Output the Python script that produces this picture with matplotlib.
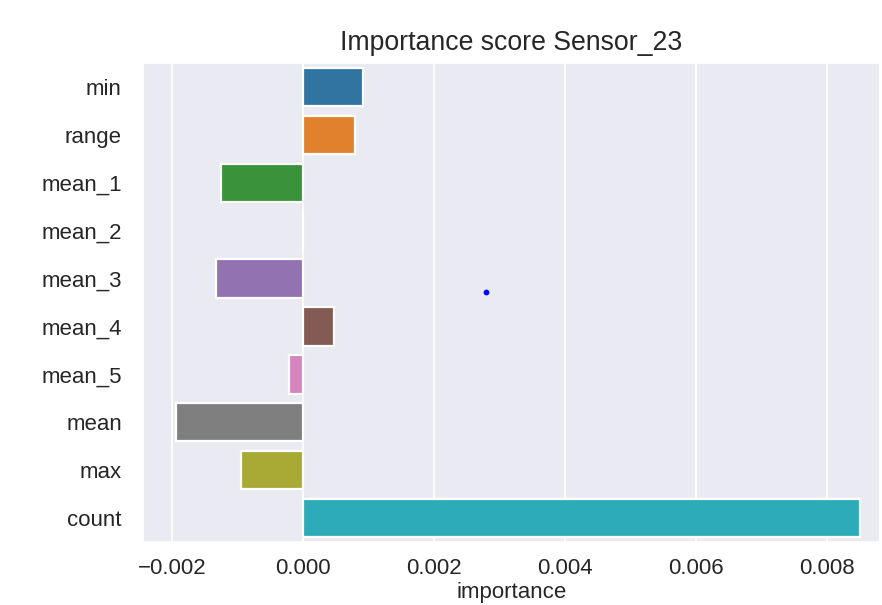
import numpy as np, pandas as pd
import matplotlib; matplotlib.use("Agg"); import matplotlib.pyplot as plt
import seaborn as sns

# feature importances for Sensor_23
features = ["min", "range", "mean_1", "mean_2", "mean_3", "mean_4", "mean_5", "mean", "max", "count"]
importance = [0.00092, 0.00079, -0.00125, 0.000005, -0.00133, 0.00047, -0.00021, -0.00194, -0.00095, 0.0085]
dot_x, dot_y = [0.0028], [4.28]   # stray point in the plot

sns.set_style("darkgrid")
plt.rcParams["font.family"] = ["Liberation Sans", "DejaVu Sans"]

df = pd.DataFrame({"feature": features, "importance": importance})

fig = plt.figure(figsize=(882 / 160, 605 / 160), dpi=160)
ax = fig.add_axes([143 / 882, 1 - 542 / 605, (880 - 143) / 882, (542 - 63) / 605])
sns.barplot(data=df, x="importance", y="feature", hue="feature", palette="tab10",
            legend=False, ax=ax)
ax.plot(dot_x, dot_y, "o", color="b", ms=1.6)
ax.set_xlim(-0.002443, 0.00881)
ax.set_ylim(len(features) - 0.5, -0.5)
ax.tick_params(axis="y", pad=6)
ax.set_ylabel("")
ax.set_xlabel("importance", labelpad=1.5)
ax.set_title("Importance score Sensor_23")

fig.savefig("out.png", dpi=160)
